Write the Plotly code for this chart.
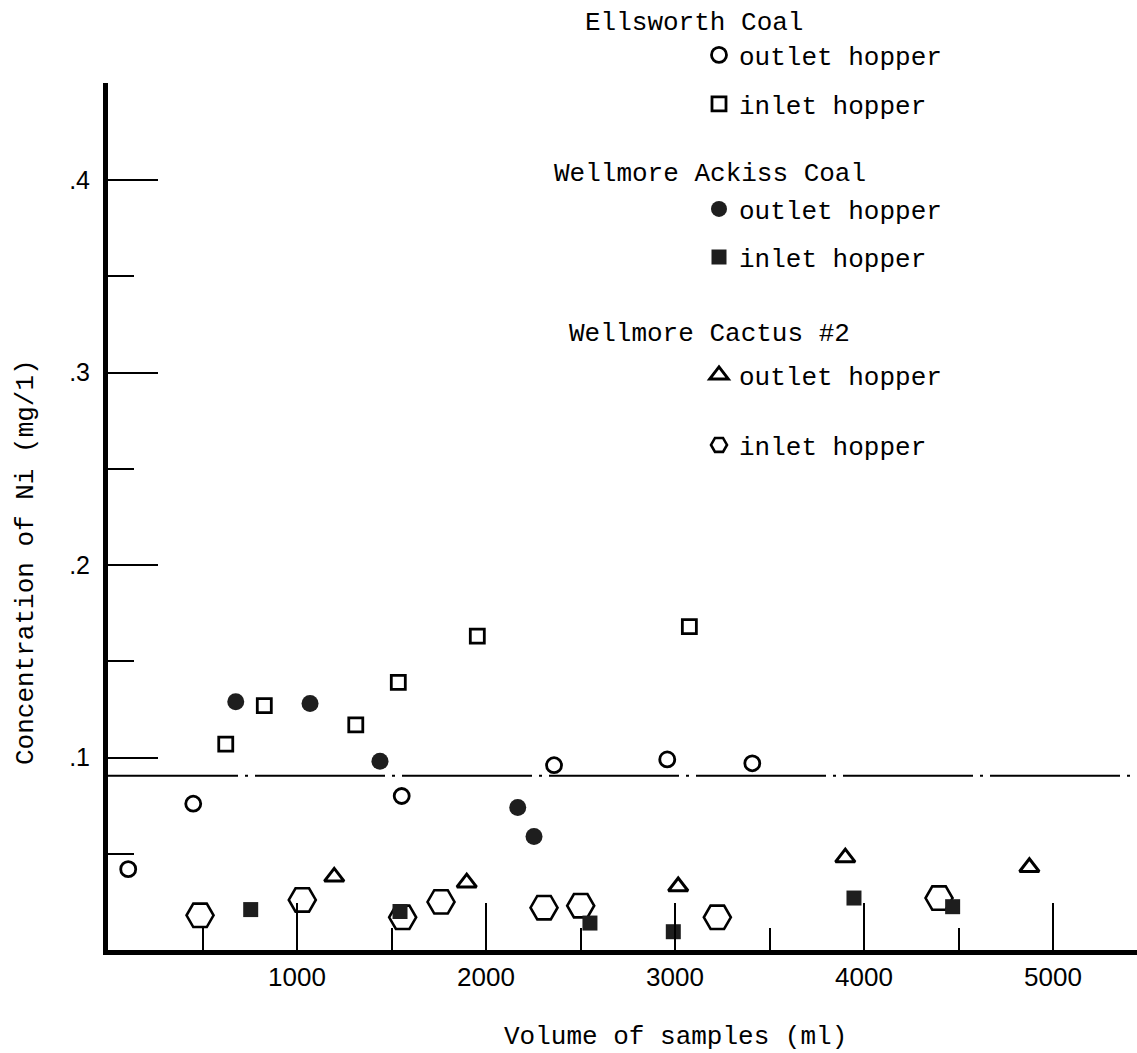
import plotly.graph_objects as go

# ---------------- data ----------------
# Ellsworth Coal
ells_out_x = [107, 451, 1554, 2360, 2959, 3409]
ells_out_y = [0.042, 0.076, 0.080, 0.096, 0.099, 0.097]
ells_in_x = [623, 827, 1311, 1536, 1954, 3076]
ells_in_y = [0.107, 0.127, 0.117, 0.139, 0.163, 0.168]
# Wellmore Ackiss Coal
ack_out_x = [676, 1069, 1439, 2168, 2254]
ack_out_y = [0.129, 0.128, 0.098, 0.074, 0.059]
ack_in_x = [755, 1545, 2550, 2991, 3947, 4469]
ack_in_y = [0.021, 0.020, 0.014, 0.0095, 0.027, 0.0225]
# Wellmore Cactus #2
cac_out_x = [1197, 1898, 3017, 3901, 4875]
cac_out_y = [0.038, 0.035, 0.033, 0.048, 0.043]
cac_in_x = [487, 1028, 1559, 1762, 2307, 2501, 3224, 4397]
cac_in_y = [0.018, 0.026, 0.017, 0.025, 0.022, 0.023, 0.017, 0.027]

reference_level = 0.0905

x_tick_vals = [1000, 2000, 3000, 4000, 5000]
x_tick_text = ["1000", "2000", "3000", "4000", "5000"]
x_minor_vals = [500, 1500, 2500, 3500, 4500]
y_tick_vals = [0.1, 0.2, 0.3, 0.4]
y_tick_text = [".1", ".2", ".3", ".4"]
y_minor_vals = [0.05, 0.15, 0.25, 0.35]

group_titles = ["Ellsworth Coal", "Wellmore Ackiss Coal", "Wellmore Cactus #2"]
item_labels = ["outlet hopper", "inlet hopper"]

# ---------------- figure ----------------
W, H = 1137, 1053
ML, MR, MT, MB = 108, 0, 83, 103
PW, PH = W - ML - MR, H - MT - MB


def px2paper_x(px):
    return (px - ML) / PW


def px2paper_y(py):
    return (H - MB - py) / PH


BLACK = "black"
FILL = "#1e1e1e"
MONO = "Liberation Mono"

fig = go.Figure()

traces = [
    # (x, y, symbol, size, line width, color, legend id, label)
    (cac_in_x, cac_in_y, "hexagon2-open", 27, 2.6, BLACK, "legend6", item_labels[1]),
    (cac_out_x, cac_out_y, "triangle-up-open", 17, 3, BLACK, "legend5", item_labels[0]),
    (ells_out_x, ells_out_y, "circle-open", 15, 2.8, BLACK, "legend", item_labels[0]),
    (ells_in_x, ells_in_y, "square-open", 14, 2.8, BLACK, "legend2", item_labels[1]),
    (ack_out_x, ack_out_y, "circle", 17, 0, FILL, "legend3", item_labels[0]),
    (ack_in_x, ack_in_y, "square", 15, 0, FILL, "legend4", item_labels[1]),
]
for x, y, sym, size, lw, col, leg, lab in traces:
    fig.add_trace(go.Scatter(
        x=x, y=y, mode="markers", name=lab, legend=leg, showlegend=True,
        marker=dict(symbol=sym, size=size, color=col,
                    line=dict(width=lw, color=col)),
    ))

# reference dash-dot line
fig.add_shape(type="line", xref="paper", x0=0, x1=1, yref="y",
              y0=reference_level, y1=reference_level,
              line=dict(color=BLACK, width=2, dash="130px,7px,3px,7px"))

legend_common = dict(
    xanchor="left", yanchor="middle", bgcolor="rgba(0,0,0,0)", borderwidth=0,
    font=dict(family=MONO, size=26, color=BLACK), itemwidth=30,
)
legend_left = 699
legend_rows = {"legend": 55, "legend2": 104, "legend3": 209,
               "legend4": 257, "legend5": 375, "legend6": 445}
legends = {}
for k, yy in legend_rows.items():
    legends[k] = dict(legend_common, x=px2paper_x(legend_left), y=px2paper_y(yy))

annotations = []
for txt, lx, ly in zip(group_titles, [583, 552, 567], [23, 174, 334]):
    annotations.append(dict(
        text=txt, xref="paper", yref="paper", x=px2paper_x(lx), y=px2paper_y(ly),
        xanchor="left", yanchor="middle", showarrow=False,
        font=dict(family=MONO, size=26, color=BLACK)))
annotations.append(dict(
    text="Concentration of Ni (mg/1)", xref="paper", yref="paper",
    x=px2paper_x(26), y=px2paper_y(562), textangle=-90,
    xanchor="center", yanchor="middle", showarrow=False,
    font=dict(family=MONO, size=26, color=BLACK)))
annotations.append(dict(
    text="Volume of samples (ml)", xref="paper", yref="paper",
    x=px2paper_x(675), y=px2paper_y(1037),
    xanchor="center", yanchor="middle", showarrow=False,
    font=dict(family=MONO, size=26, color=BLACK)))

fig.update_layout(
    width=W, height=H,
    margin=dict(l=ML, r=MR, t=MT, b=MB, autoexpand=False),
    plot_bgcolor="white", paper_bgcolor="white",
    showlegend=True,
    annotations=annotations,
    xaxis=dict(
        range=[0, PW / 0.189], showgrid=False, zeroline=False,
        showline=True, linewidth=5, linecolor=BLACK,
        ticks="inside", ticklen=47, tickwidth=1.5, tickcolor=BLACK,
        tickmode="array", tickvals=x_tick_vals, ticktext=x_tick_text,
        tickfont=dict(family="Liberation Sans", size=26, color=BLACK),
        ticklabelstandoff=0,
        minor=dict(tickmode="array", tickvals=x_minor_vals, ticks="inside",
                   ticklen=22, tickwidth=1.5, tickcolor=BLACK, showgrid=False),
    ),
    yaxis=dict(
        range=[0, PH / 1925.0], showgrid=False, zeroline=False,
        showline=True, linewidth=5, linecolor=BLACK,
        ticks="inside", ticklen=50, tickwidth=1.5, tickcolor=BLACK,
        tickmode="array", tickvals=y_tick_vals, ticktext=y_tick_text,
        tickfont=dict(family="Liberation Sans", size=25, color=BLACK),
        ticklabelstandoff=8,
        minor=dict(tickmode="array", tickvals=y_minor_vals, ticks="inside",
                   ticklen=26, tickwidth=1.5, tickcolor=BLACK, showgrid=False),
    ),
    **legends,
)

fig.write_html("out.html")
